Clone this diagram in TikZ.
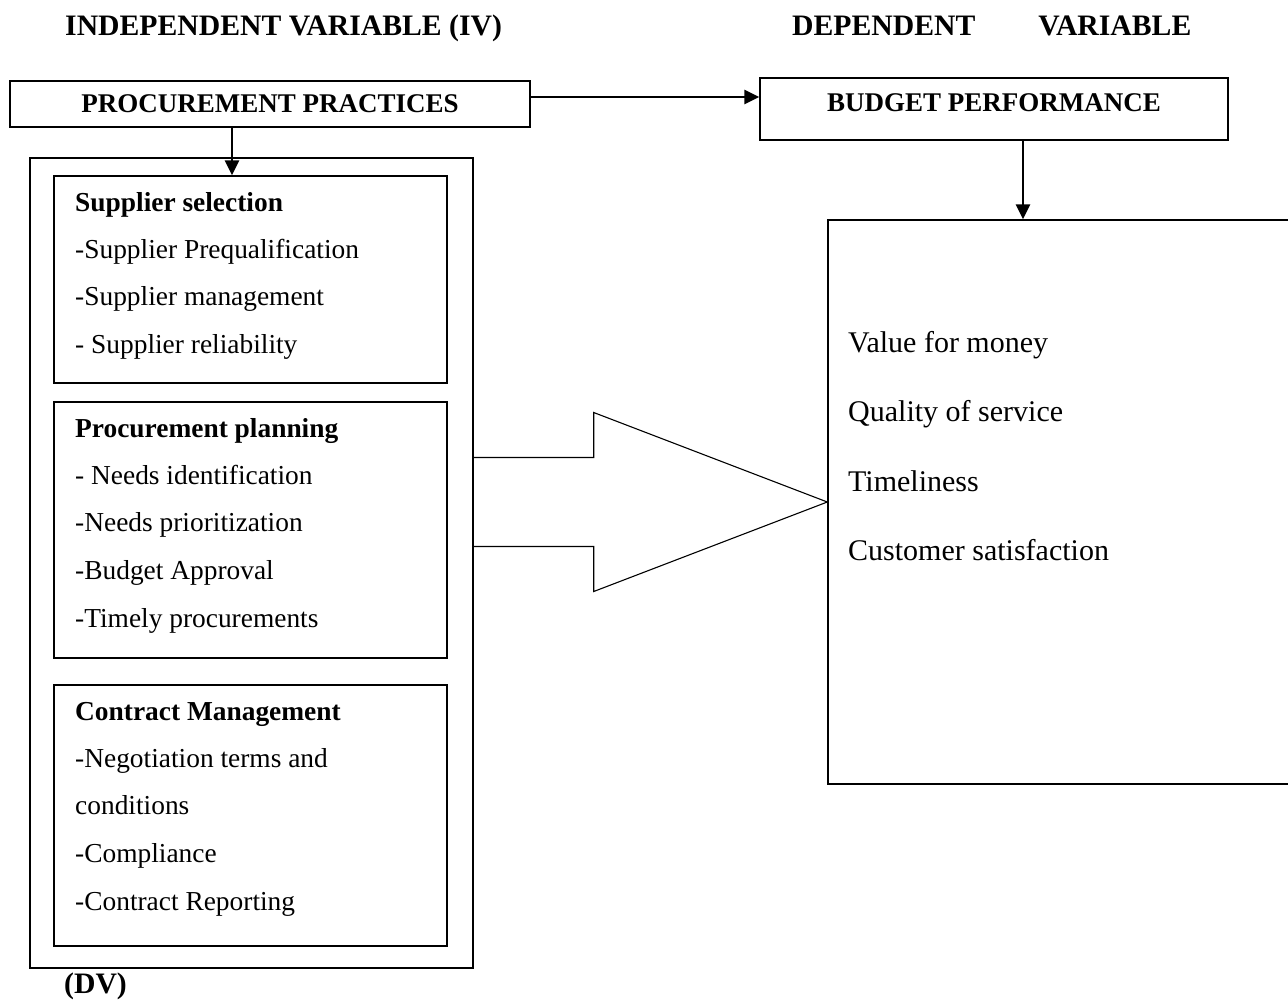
\documentclass[tikz,border=0pt]{standalone}
\usepackage{fontspec}
\setmainfont{Liberation Serif}
\usetikzlibrary{arrows.meta,calc}
\begin{document}
\begin{tikzpicture}[x=1pt,y=-1pt,
  box/.style={draw,line width=1.4pt,rectangle,inner sep=0pt},
  arr/.style={line width=2.5pt,-{Triangle[length=15pt,width=14pt]}},
  body/.style={anchor=base west,inner sep=0pt,font=\fontsize{27.4}{33}\selectfont},
  bodyb/.style={anchor=base west,inner sep=0pt,font=\fontsize{27.4}{33}\selectfont\bfseries},
  rtext/.style={anchor=base west,inner sep=0pt,font=\fontsize{30}{36}\selectfont},
  ttl/.style={anchor=base west,inner sep=0pt,font=\fontsize{29.7}{36}\selectfont\bfseries},
  hdr/.style={box,font=\fontsize{27}{32}\selectfont\bfseries,align=center}]
\useasboundingbox (0,0) rectangle (1288,1005);
\fill[white] (0,0) rectangle (1288,1005);
\clip (0,0) rectangle (1288,1005);

% titles
\node[ttl] (tiv) at (65,35) {INDEPENDENT VARIABLE (IV)};
\node[ttl] (tdv) at (792,35) {DEPENDENT\hspace{63pt}VARIABLE};
\node[ttl] (dv) at (64,993) {(DV)};

% header boxes
\node[hdr,minimum width=520pt,minimum height=46pt,text depth=0pt] (pp) at (270,104) {PROCUREMENT PRACTICES};
\node[hdr,minimum width=468pt,minimum height=62pt,text depth=12pt] (bp) at (994,109) {BUDGET PERFORMANCE};

% left boxes
\node[box,minimum width=443pt,minimum height=810pt] (outer) at (251.5,563) {};
\node[box,minimum width=393pt,minimum height=207pt] (b1) at (250.5,279.5) {};
\node[box,minimum width=393pt,minimum height=256pt] (b2) at (250.5,530) {};
\node[box,minimum width=393pt,minimum height=261pt] (b3) at (250.5,815.5) {};

% right box
\node[box,minimum width=572pt,minimum height=564pt] (rb) at (1114,502) {};

% texts box 1
\node[bodyb] (t11) at (75,211) {Supplier selection};
\node[body] (t12) at (75,258) {-Supplier Prequalification};
\node[body] (t13) at (75,305) {-Supplier management};
\node[body] (t14) at (75,353) {- Supplier reliability};
% texts box 2
\node[bodyb] (t21) at (75,437) {Procurement planning};
\node[body] (t22) at (75,484) {- Needs identification};
\node[body] (t23) at (75,531) {-Needs prioritization};
\node[body] (t24) at (75,579) {-Budget Approval};
\node[body] (t25) at (75,627) {-Timely procurements};
% texts box 3
\node[bodyb] (t31) at (75,720) {Contract Management};
\node[body] (t32) at (75,767) {-Negotiation terms and};
\node[body] (t33) at (75,814) {conditions};
\node[body] (t34) at (75,862) {-Compliance};
\node[body] (t35) at (75,910) {-Contract Reporting};
% right texts
\node[rtext] (r1) at (848,352) {Value for money};
\node[rtext] (r2) at (848,421) {Quality of service};
\node[rtext] (r3) at (848,491) {Timeliness};
\node[rtext] (r4) at (848,560) {Customer satisfaction};

% connectors
\path ([yshift=7pt]pp.east) coordinate (s1);
\draw[arr] (s1) -- (s1 -| bp.west);
\path ([xshift=-38pt]pp.south) coordinate (s2);
\draw[arr] (s2) -- (s2 |- b1.north);
\path ([xshift=29pt]bp.south) coordinate (s3);
\draw[arr] (s3) -- (s3 |- rb.north);

% big arrow
\path (rb.west) coordinate (tip);
\path (outer.east |- tip) coordinate (tail);
\draw[line width=1.1pt,line join=miter] ($(tail)+(0,-44.5)$) -- ($(tail)+(120,-44.5)$) -- ($(tail)+(120,-89.5)$) -- (tip)
  -- ($(tail)+(120,89.5)$) -- ($(tail)+(120,44.5)$) -- ($(tail)+(0,44.5)$);
\end{tikzpicture}
\end{document}
